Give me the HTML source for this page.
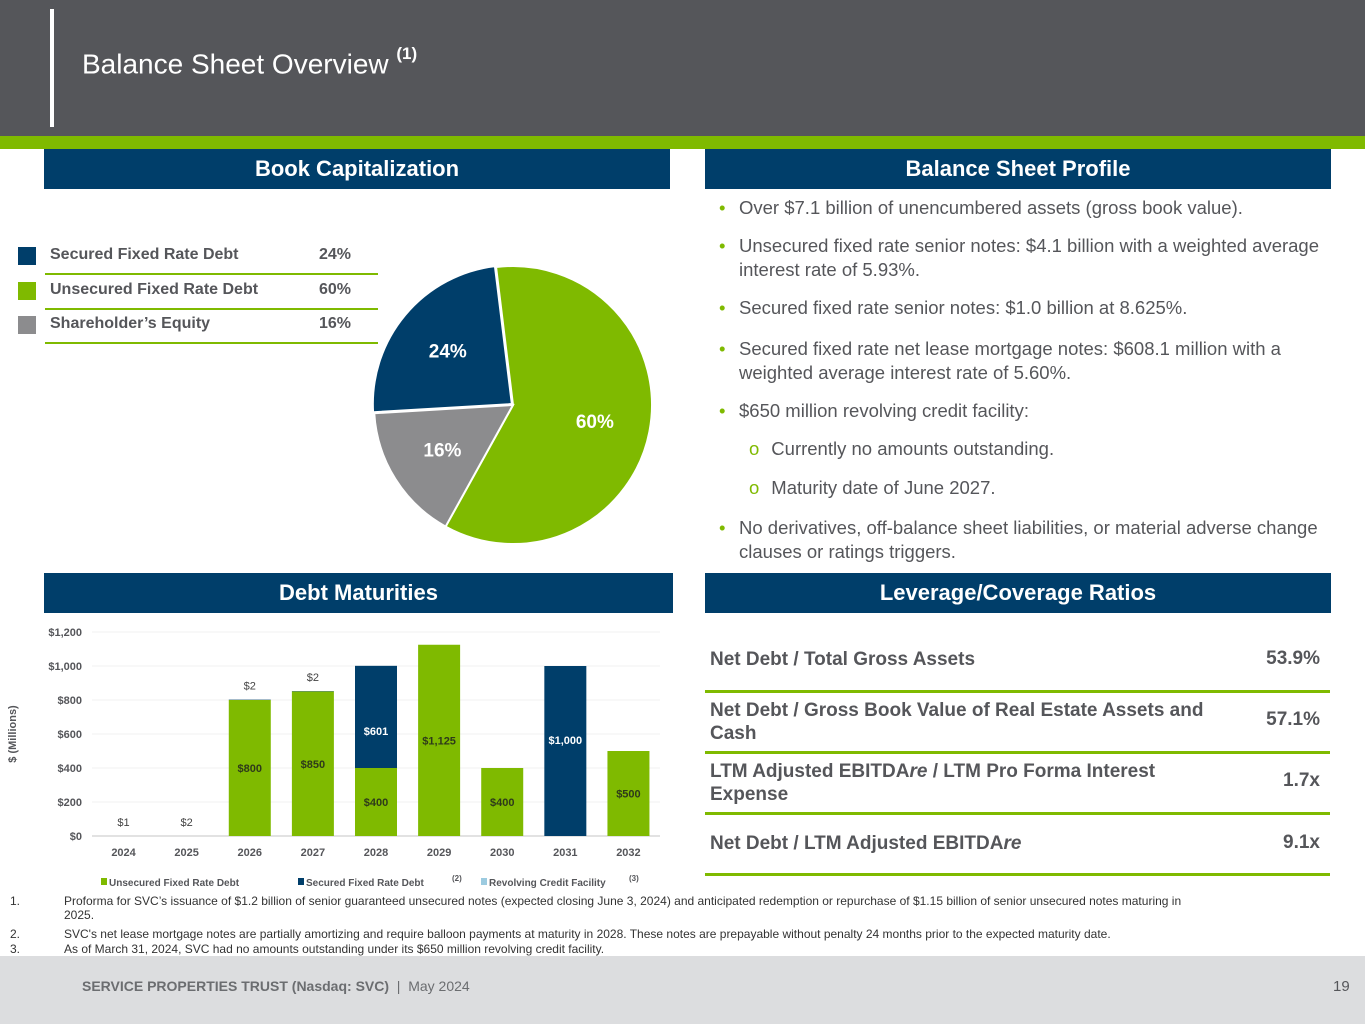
<!DOCTYPE html>
<html><head><meta charset="utf-8">
<style>
html,body{margin:0;padding:0;width:1365px;height:1024px;overflow:hidden;background:#fff;font-family:"Liberation Sans",sans-serif;}
.abs{position:absolute;}
.hdr{position:absolute;background:#003e6a;color:#fff;font-weight:bold;font-size:22px;text-align:center;line-height:40px;height:40px;}
.bul{position:absolute;left:719px;width:600px;font-size:18.5px;color:#55565a;line-height:24px;}
.bul .d{position:absolute;left:0;color:#7fba00;}
.bul .t{display:block;padding-left:20px;}
.sub{position:absolute;left:749px;font-size:18.5px;color:#55565a;}
.sub .o{color:#7fba00;margin-right:12px;}
.rt{position:absolute;left:710px;width:505px;font-weight:bold;font-size:19px;color:#55565a;line-height:23px;}
.rv{position:absolute;right:45px;font-weight:bold;font-size:19px;color:#55565a;}
.rl{position:absolute;left:705px;width:625px;height:3px;background:#7fba00;}
.fn{position:absolute;font-size:12px;color:#333;line-height:14px;}
</style></head><body>
<div class="abs" style="left:0;top:0;width:1365px;height:136px;background:#55565a"></div>
<div class="abs" style="left:50px;top:9px;width:4px;height:118px;background:#fff"></div>
<div class="abs" style="left:82px;top:48px;font-size:28px;color:#fff">Balance Sheet Overview <sup style="font-size:17px;font-weight:bold;position:relative;top:-4px">(1)</sup></div>
<div class="abs" style="left:0;top:136px;width:1365px;height:13px;background:#7fba00"></div>

<div class="hdr" style="left:44px;top:149px;width:626px">Book Capitalization</div>
<div class="hdr" style="left:705px;top:149px;width:626px">Balance Sheet Profile</div>
<div class="hdr" style="left:44px;top:573px;width:629px">Debt Maturities</div>
<div class="hdr" style="left:705px;top:573px;width:626px">Leverage/Coverage Ratios</div>

<div>
<div class="abs" style="left:18px;top:247px;width:18px;height:18px;background:#003e6a"></div>
<div class="abs" style="left:50px;top:246px;font-weight:bold;font-size:16px;color:#55565a">Secured Fixed Rate Debt</div>
<div class="abs" style="left:319px;top:246px;font-weight:bold;font-size:16px;color:#55565a">24%</div>
<div class="abs" style="left:45px;top:273px;width:333px;height:2px;background:#7fba00"></div>
<div class="abs" style="left:18px;top:282px;width:18px;height:18px;background:#7fba00"></div>
<div class="abs" style="left:50px;top:281px;font-weight:bold;font-size:16px;color:#55565a">Unsecured Fixed Rate Debt</div>
<div class="abs" style="left:319px;top:281px;font-weight:bold;font-size:16px;color:#55565a">60%</div>
<div class="abs" style="left:45px;top:308px;width:333px;height:2px;background:#7fba00"></div>
<div class="abs" style="left:18px;top:316px;width:18px;height:18px;background:#8c8c8e"></div>
<div class="abs" style="left:50px;top:315px;font-weight:bold;font-size:16px;color:#55565a">Shareholder’s Equity</div>
<div class="abs" style="left:319px;top:315px;font-weight:bold;font-size:16px;color:#55565a">16%</div>
<div class="abs" style="left:45px;top:342px;width:333px;height:2px;background:#7fba00"></div>
</div>

<svg class="abs" id="pie" style="left:360px;top:250px" width="310" height="310"></svg>

<div class="bul" style="top:196px"><span class="d">•</span><span class="t">Over $7.1 billion of unencumbered assets (gross book value).</span></div>
<div class="bul" style="top:234px"><span class="d">•</span><span class="t">Unsecured fixed rate senior notes: $4.1 billion with a weighted average interest rate of 5.93%.</span></div>
<div class="bul" style="top:296px"><span class="d">•</span><span class="t">Secured fixed rate senior notes: $1.0 billion at 8.625%.</span></div>
<div class="bul" style="top:337px"><span class="d">•</span><span class="t">Secured fixed rate net lease mortgage notes: $608.1 million with a weighted average interest rate of 5.60%.</span></div>
<div class="bul" style="top:399px"><span class="d">•</span><span class="t">$650 million revolving credit facility:</span></div>
<div class="sub" style="top:438px"><span class="o">o</span>Currently no amounts outstanding.</div>
<div class="sub" style="top:477px"><span class="o">o</span>Maturity date of June 2027.</div>
<div class="bul" style="top:516px"><span class="d">•</span><span class="t">No derivatives, off-balance sheet liabilities, or material adverse change clauses or ratings triggers.</span></div>

<div class="rt" style="top:648px">Net Debt / Total Gross Assets</div>
<div class="rv" style="top:648px">53.9%</div>
<div class="rl" style="top:690px"></div>
<div class="rt" style="top:699px;width:500px">Net Debt / Gross Book Value of Real Estate Assets and Cash</div>
<div class="rv" style="top:709px">57.1%</div>
<div class="rl" style="top:751px"></div>
<div class="rt" style="top:760px">LTM Adjusted EBITDA<i>re</i> / LTM Pro Forma Interest Expense</div>
<div class="rv" style="top:770px">1.7x</div>
<div class="rl" style="top:812px"></div>
<div class="rt" style="top:832px">Net Debt / LTM Adjusted EBITDA<i>re</i></div>
<div class="rv" style="top:832px">9.1x</div>
<div class="rl" style="top:873px"></div>

<svg class="abs" id="chart" style="left:0;top:615px" width="690" height="280"></svg>

<div class="fn" style="top:894px;left:10px">1.</div>
<div class="fn" style="top:894px;left:64px;width:1140px">Proforma for SVC’s issuance of $1.2 billion of senior guaranteed unsecured notes (expected closing June 3, 2024) and anticipated redemption or repurchase of $1.15 billion of senior unsecured notes maturing in 2025.</div>
<div class="fn" style="top:927px;left:10px">2.</div>
<div class="fn" style="top:927px;left:64px">SVC's net lease mortgage notes are partially amortizing and require balloon payments at maturity in 2028. These notes are prepayable without penalty 24 months prior to the expected maturity date.</div>
<div class="fn" style="top:942px;left:10px">3.</div>
<div class="fn" style="top:942px;left:64px">As of March 31, 2024, SVC had no amounts outstanding under its $650 million revolving credit facility.</div>

<div class="abs" style="left:0;top:956px;width:1365px;height:68px;background:#dcdddf"></div>
<div class="abs" style="left:82px;top:978px;font-size:14px;color:#6b6d70"><b>SERVICE PROPERTIES TRUST (Nasdaq: SVC)</b> &nbsp;|&nbsp; May 2024</div>
<div class="abs" style="left:1333px;top:978px;font-size:15px;color:#55565a">19</div>

<script>
const pieLabels = ["Unsecured Fixed Rate Debt","Shareholder's Equity","Secured Fixed Rate Debt"];
const pieValues = [60, 16, 24];
const pieColors = ["#7fba00","#8c8c8e","#003e6a"];
(function(){
  const svg=document.getElementById('pie'), NS='http://www.w3.org/2000/svg';
  const cx=153, cy=155, r=139; let a=-7*Math.PI/180;
  const total=pieValues.reduce((s,v)=>s+v,0);
  pieValues.forEach((v,i)=>{
    const sweep=v/total*2*Math.PI, a2=a+sweep;
    const off = i===2?1.5:0, mid=a+sweep/2;
    const ox=off*Math.sin(mid), oy=-off*Math.cos(mid);
    const x1=cx+ox+r*Math.sin(a), y1=cy+oy-r*Math.cos(a), x2=cx+ox+r*Math.sin(a2), y2=cy+oy-r*Math.cos(a2);
    const p=document.createElementNS(NS,'path');
    p.setAttribute('d',`M${cx+ox},${cy+oy}L${x1},${y1}A${r},${r} 0 ${sweep>Math.PI?1:0} 1 ${x2},${y2}Z`);
    p.setAttribute('fill',pieColors[i]); p.setAttribute('stroke','#fff'); p.setAttribute('stroke-width','2');
    
    
    svg.appendChild(p);
    const lr=r*0.6, t=document.createElementNS(NS,'text');
    t.setAttribute('x',cx+ox+lr*Math.sin(mid)); t.setAttribute('y',cy+oy-lr*Math.cos(mid)+7);
    t.setAttribute('text-anchor','middle'); t.setAttribute('font-size','19'); t.setAttribute('font-weight','bold'); t.setAttribute('fill','#fff');
    t.setAttribute('font-family','Liberation Sans, sans-serif');
    t.textContent=v+'%';
    
    
    svg.appendChild(t);
    a=a2;
  });
})();

const years = ["2024","2025","2026","2027","2028","2029","2030","2031","2032"];
const unsecured = [0,0,800,850,400,1125,400,0,500];
const secured = [1,2,2,2,601,0,0,1000,0];
const revolver = [0,0,0,0,0,0,0,0,0];
const yTicks = [0,200,400,600,800,1000,1200];
const yTickLabels = ["$0","$200","$400","$600","$800","$1,000","$1,200"];
(function(){
  const svg=document.getElementById('chart'), NS='http://www.w3.org/2000/svg';
  const x0=92, x1=660, yb=221, yt=17, ymax=1200;
  const step=(x1-x0)/years.length, bw=42;
  const y=v=>yb-(v/ymax)*(yb-yt);
  const cxf=i=>x0+step*(i+0.5);
  function el(tag,attrs,txt,name){const e=document.createElementNS(NS,tag);for(const k in attrs)e.setAttribute(k,attrs[k]);if(txt!=null)e.textContent=txt;
    
    
    svg.appendChild(e);return e;}
  const F='Liberation Sans, sans-serif';
  yTicks.forEach((v,i)=>{
    if(v>0) el('line',{x1:x0,x2:x1,y1:y(v),y2:y(v),stroke:'#f0f0f0','stroke-width':1},null,'gridline');
    el('text',{x:82,y:y(v)+4,'text-anchor':'end','font-size':11,'font-weight':'bold',fill:'#55565a','font-family':F},yTickLabels[i],'y-tick-label');
  });
  el('line',{x1:x0,x2:x1,y1:yb,y2:yb,stroke:'#d9d9d9','stroke-width':1.5},null,'x-axis');
  el('text',{x:0,y:0,transform:`translate(16,${(yb+yt)/2}) rotate(-90)`,'text-anchor':'middle','font-size':11,'font-weight':'bold',fill:'#55565a','font-family':F},'$ (Millions)','y-axis-title');
  years.forEach((yr,i)=>{
    const cx=cxf(i);
    el('text',{x:cx,y:yb+20,'text-anchor':'middle','font-size':11,'font-weight':'bold',fill:'#55565a','font-family':F},yr,'x-tick-label');
    if(unsecured[i]>0){
      el('rect',{x:cx-bw/2,y:y(unsecured[i]),width:bw,height:yb-y(unsecured[i]),fill:'#7fba00'},null,'bar-unsecured');
      el('text',{x:cx,y:(y(unsecured[i])+yb)/2+4,'text-anchor':'middle','font-size':11,'font-weight':'bold',fill:'#2e3a1a','font-family':F},'$'+unsecured[i].toLocaleString('en-US'),'bar-value-unsecured');
    }
    const base=unsecured[i], top=base+secured[i];
    if(secured[i]>10){
      el('rect',{x:cx-bw/2,y:y(top),width:bw,height:y(base)-y(top),fill:'#003e6a'},null,'bar-secured');
      el('text',{x:cx,y:(y(top)+y(base))/2+ (base>0?18:-7),'text-anchor':'middle','font-size':11,'font-weight':'bold',fill:'#fff','font-family':F},'$'+secured[i].toLocaleString('en-US'),'bar-value-secured');
    } else if(secured[i]>0){
      if(base>0) el('rect',{x:cx-bw/2,y:y(top),width:bw,height:y(base)-y(top),fill:'#003e6a'},null,'bar-secured');
      el('text',{x:cx,y:base>0?y(top)-10:yb-10,'text-anchor':'middle','font-size':11,fill:'#444','font-family':F},'$'+secured[i],'bar-value-secured');
    }
  });
  const ly=271;
  el('rect',{x:101,y:ly-8,width:6,height:7,fill:'#7fba00'},null,'legend-swatch-unsecured');
  el('text',{x:109,y:ly,'font-size':10,'font-weight':'bold',fill:'#55565a','font-family':F},'Unsecured Fixed Rate Debt','legend-entry-unsecured');
  el('rect',{x:298,y:ly-8,width:6,height:7,fill:'#003e6a'},null,'legend-swatch-secured');
  el('text',{x:306,y:ly,'font-size':10,'font-weight':'bold',fill:'#55565a','font-family':F},'Secured Fixed Rate Debt','legend-entry-secured');
  el('text',{x:452,y:ly-5,'font-size':8,'font-weight':'bold',fill:'#55565a','font-family':F},'(2)','legend-footnote-2');
  el('rect',{x:481,y:ly-8,width:6,height:7,fill:'#9ccbe0'},null,'legend-swatch-revolver');
  el('text',{x:489,y:ly,'font-size':10,'font-weight':'bold',fill:'#55565a','font-family':F},'Revolving Credit Facility','legend-entry-revolver');
  el('text',{x:629,y:ly-5,'font-size':8,'font-weight':'bold',fill:'#55565a','font-family':F},'(3)','legend-footnote-3');
})();
</script>
</body></html>
